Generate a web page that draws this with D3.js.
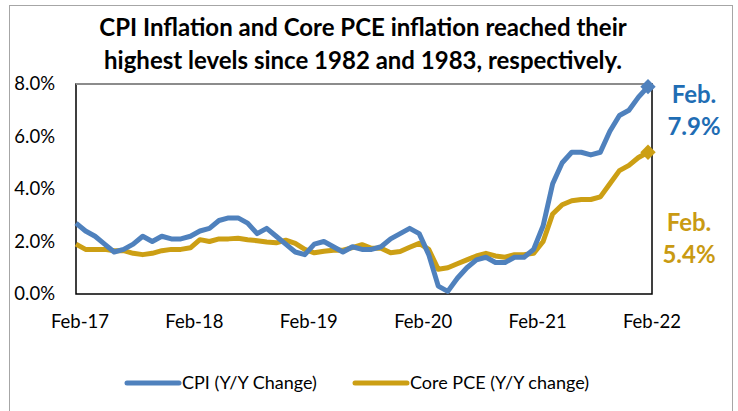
<!DOCTYPE html>
<html>
<head>
<meta charset="utf-8">
<script src="https://cdn.jsdelivr.net/npm/d3@7"></script>
<style>
	body { margin: 0; background: #fff; }
	svg { display: block; font-family: Lato, "Liberation Sans", sans-serif; }
</style>
</head>
<body>
<svg width="738" height="411"></svg>
<script>
// months Feb-17 .. Feb-22
const months = d3.timeMonths(new Date(2017, 1, 1), new Date(2022, 2, 1));
const tickLabels = ["Feb-17", "Feb-18", "Feb-19", "Feb-20", "Feb-21", "Feb-22"];
const yTicks = [0, 2, 4, 6, 8];

// CPI y/y %
const cpi = [
	2.7, 2.4, 2.2, 1.9, 1.6, 1.7, 1.9, 2.2, 2.0, 2.2, 2.1,
	2.1, 2.2, 2.4, 2.5, 2.8, 2.9, 2.9, 2.7, 2.3, 2.5, 2.2, 1.9,
	1.6, 1.5, 1.9, 2.0, 1.8, 1.6, 1.8, 1.7, 1.7, 1.8, 2.1, 2.3,
	2.5, 2.3, 1.5, 0.3, 0.1, 0.6, 1.0, 1.3, 1.4, 1.2, 1.2, 1.4,
	1.4, 1.7, 2.6, 4.2, 5.0, 5.4, 5.4, 5.3, 5.4, 6.2, 6.8, 7.0,
	7.5, 7.9
];
// Core PCE y/y %
const corePce = [
	1.9, 1.7, 1.7, 1.7, 1.65, 1.65, 1.55, 1.5, 1.55, 1.65, 1.7,
	1.7, 1.76, 2.07, 2.0, 2.1, 2.1, 2.12, 2.07, 2.03, 1.98, 1.95, 2.05,
	1.93, 1.7, 1.57, 1.63, 1.67, 1.67, 1.77, 1.88, 1.74, 1.74, 1.57, 1.62,
	1.78, 1.93, 1.7, 0.94, 1.0, 1.15, 1.3, 1.45, 1.55, 1.45, 1.4, 1.5,
	1.5, 1.55, 2.0, 3.05, 3.4, 3.55, 3.6, 3.6, 3.7, 4.2, 4.7, 4.9,
	5.2, 5.4
];

const blue = "#4F81BD", gold = "#CC9F14";
const blueText = "#1F6DB4", goldText = "#C99A12";

const svg = d3.select("svg");
const plotLeft = 76, plotRight = 652, plotTop = 84, plotBottom = 294;

const x = d3.scaleLinear().domain([0, months.length - 1]).range([plotLeft, 648]);
const y = d3.scaleLinear().domain([0, 8]).range([plotBottom, plotTop]);

// outer frame
svg.append("rect")
	.attr("x", 9.5).attr("y", 5.5)
	.attr("width", 723).attr("height", 420)
	.attr("fill", "none").attr("stroke", "#a6a6a6");

// title
const title = svg.append("text")
	.attr("text-anchor", "middle")
	.attr("font-size", "24px")
	.attr("font-weight", "bold")
	.attr("fill", "#000");
title.append("tspan").attr("x", 363).attr("y", 36)
	.text("CPI Inflation and Core PCE inflation reached their");
title.append("tspan").attr("x", 363).attr("y", 69)
	.text("highest levels since 1982 and 1983, respectively.");

// plot frame
svg.append("rect")
	.attr("x", plotLeft).attr("y", plotTop)
	.attr("width", plotRight - plotLeft).attr("height", plotBottom - plotTop)
	.attr("fill", "none").attr("stroke", "#000").attr("stroke-width", 1.5);
svg.append("line")
	.attr("x1", plotLeft).attr("x2", plotRight).attr("y1", plotTop).attr("y2", plotTop)
	.attr("stroke", "#8c8c8c").attr("stroke-width", 2);

// y axis labels
svg.append("g").selectAll("text")
	.data(yTicks)
	.join("text")
	.attr("x", 55)
	.attr("y", (d) => y(d))
	.attr("dy", "0.35em")
	.attr("text-anchor", "end")
	.attr("font-size", "18.5px")
	.attr("fill", "#000")
	.text((d) => d.toFixed(1) + "%");

// x axis labels
svg.append("g").selectAll("text")
	.data(tickLabels)
	.join("text")
	.attr("x", (d, i) => x(i * 12) + 4)
	.attr("y", 322)
	.attr("dy", "0.35em")
	.attr("text-anchor", "middle")
	.attr("font-size", "18.5px")
	.attr("fill", "#000")
	.text((d) => d);

const line = d3.line()
	.x((d, i) => x(i))
	.y((d) => y(d));

const series = [
	{ values: corePce, color: gold },
	{ values: cpi, color: blue },
];

series.forEach((s) => {
	svg.append("path")
		.datum(s.values)
		.attr("fill", "none")
		.attr("stroke", s.color)
		.attr("stroke-width", 5)
		.attr("stroke-linejoin", "round")
		.attr("d", line);
	const last = s.values.length - 1;
	svg.append("path")
		.attr("d", d3.symbol().type(d3.symbolDiamond2).size(150)())
		.attr("fill", s.color)
		.attr("transform", "translate(" + x(last) + "," + y(s.values[last]) + ")");
});

// end labels
const notes = [
	{ lines: ["Feb.", "7.9%"], color: blueText, cx: 694, y0: 95 },
	{ lines: ["Feb.", "5.4%"], color: goldText, cx: 689, y0: 223 },
];
notes.forEach((n) => {
	n.lines.forEach((t, i) => {
		svg.append("text")
			.attr("x", n.cx)
			.attr("y", n.y0 + i * 32)
			.attr("dy", "0.35em")
			.attr("text-anchor", "middle")
			.attr("font-size", "24px")
			.attr("font-weight", "bold")
			.attr("fill", n.color)
			.text(t);
	});
});

// legend
const legend = [
	{ name: "CPI (Y/Y Change)", color: blue, x0: 127 },
	{ name: "Core PCE (Y/Y change)", color: gold, x0: 355 },
];
legend.forEach((l) => {
	svg.append("line")
		.attr("x1", l.x0).attr("x2", l.x0 + 52)
		.attr("y1", 383).attr("y2", 383)
		.attr("stroke", l.color)
		.attr("stroke-width", 5)
		.attr("stroke-linecap", "round");
	svg.append("text")
		.attr("x", l.x0 + 55)
		.attr("y", 383)
		.attr("dy", "0.35em")
		.attr("font-size", "18px")
		.attr("fill", "#000")
		.text(l.name);
});
</script>
</body>
</html>
